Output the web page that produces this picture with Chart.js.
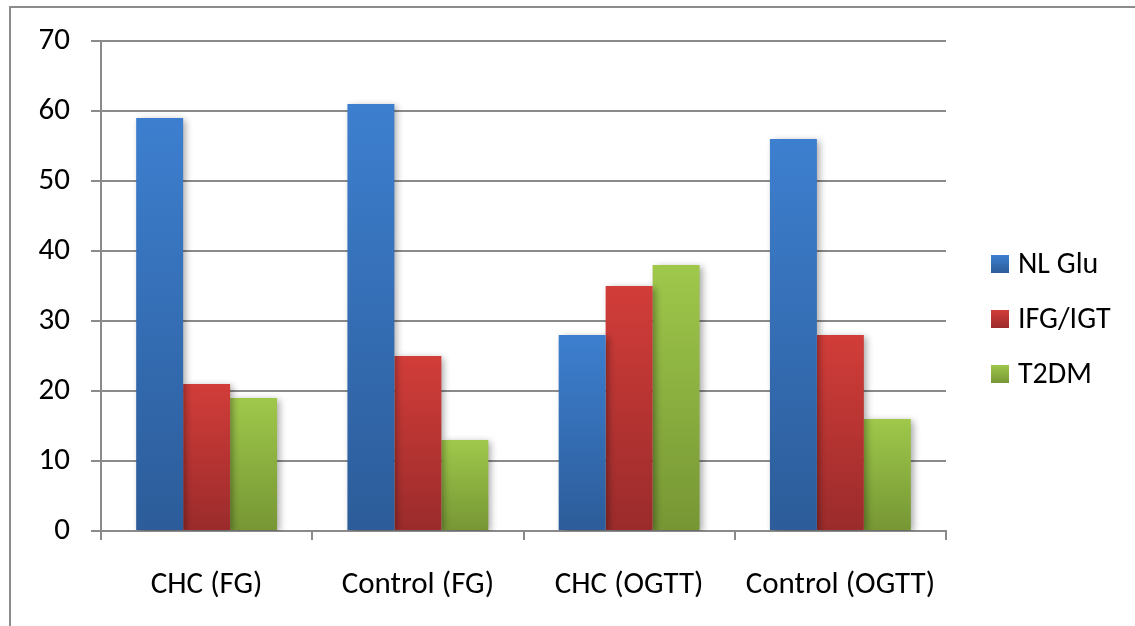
<!DOCTYPE html>
<html>
<head>
<meta charset="utf-8">
<script src="https://cdn.jsdelivr.net/npm/chart.js@4/dist/chart.umd.min.js"></script>
<style>
  html, body { margin: 0; padding: 0; background: #ffffff; }
  #wrap { width: 1135px; height: 626px; position: relative; }
</style>
</head>
<body>
<div id="wrap"><canvas id="c" width="1135" height="626"></canvas></div>
<script>
// Glucose status by group (%)
const categories = ['CHC (FG)', 'Control (FG)', 'CHC (OGTT)', 'Control (OGTT)'];
const nlGlu = [59, 61, 28, 56];
const ifgIgt = [21, 25, 35, 28];
const t2dm = [19, 13, 38, 16];
const seriesNames = ['NL Glu', 'IFG/IGT', 'T2DM'];
const yTicks = [0, 10, 20, 30, 40, 50, 60, 70];

// top / bottom colours of each series' vertical gradient
const shades = [
  ['#3d7fcf', '#2c5c99'],
  ['#d23d39', '#9a2b2b'],
  ['#9fc84b', '#769634']
];

const FONT = 'Carlito, Calibri, Lato, sans-serif';
const AXIS = '#8a8a8a';

function barFill(idx) {
  return function (ctx) {
    const chart = ctx.chart;
    const area = chart.chartArea;
    if (!area || ctx.type !== 'data') return shades[idx][0];
    const y = chart.scales.y;
    const top = y.getPixelForValue(ctx.raw);
    const bottom = y.getPixelForValue(0);
    const g = chart.ctx.createLinearGradient(0, top, 0, bottom);
    g.addColorStop(0, shades[idx][0]);
    g.addColorStop(1, shades[idx][1]);
    return g;
  };
}

// soft drop shadow behind the bars
const barShadow = {
  id: 'barShadow',
  beforeDatasetDraw(chart) {
    const c = chart.ctx;
    c.save();
    c.shadowColor = 'rgba(0,0,0,0.35)';
    c.shadowBlur = 7;
    c.shadowOffsetX = 3;
    c.shadowOffsetY = 2;
  },
  afterDatasetDraw(chart) {
    chart.ctx.restore();
  }
};

// outer frame around the whole chart
const frame = {
  id: 'frame',
  afterDraw(chart) {
    const c = chart.ctx;
    c.save();
    c.strokeStyle = '#8c8c8c';
    c.lineWidth = 2;
    c.beginPath();
    c.moveTo(10, 626);
    c.lineTo(10, 7);
    c.lineTo(1135, 7);
    c.stroke();
    c.restore();
  }
};

// legend on the right with gradient swatches
const sideLegend = {
  id: 'sideLegend',
  afterDraw(chart) {
    const c = chart.ctx;
    const ys = [264, 319, 374];
    c.save();
    c.font = '30px ' + FONT;
    c.textBaseline = 'middle';
    c.fillStyle = '#000000';
    seriesNames.forEach((name, i) => {
      const y = ys[i];
      const g = c.createLinearGradient(0, y - 9, 0, y + 9);
      g.addColorStop(0, shades[i][0]);
      g.addColorStop(1, shades[i][1]);
      c.fillStyle = g;
      c.fillRect(991, y - 9, 18, 18);
      c.fillStyle = '#000000';
      c.fillText(name, 1018, y + 1);
    });
    c.restore();
  }
};

const data = {
  labels: categories,
  datasets: [nlGlu, ifgIgt, t2dm].map((vals, i) => ({
    label: seriesNames[i],
    data: vals,
    backgroundColor: barFill(i),
    borderWidth: 0,
    categoryPercentage: 0.667,
    barPercentage: 1.0
  }))
};

new Chart(document.getElementById('c'), {
  type: 'bar',
  data: data,
  plugins: [barShadow, frame, sideLegend],
  options: {
    responsive: false,
    animation: false,
    layout: { padding: { left: 0, right: 189, top: 41, bottom: 0 } },
    plugins: {
      legend: { display: false },
      tooltip: { enabled: false }
    },
    scales: {
      x: {
        offset: true,
        afterFit(s) { s.height = 95; },
        grid: {
          offset: true,
          drawOnChartArea: false,
          drawTicks: true,
          tickLength: 9,
          color: AXIS,
          lineWidth: 2
        },
        border: { color: AXIS, width: 2 },
        ticks: {
          color: '#000000',
          padding: 27,
          font: { family: FONT, size: 31 }
        }
      },
      y: {
        min: 0,
        max: 70,
        afterFit(s) { s.width = 101; },
        afterBuildTicks(s) { s.ticks = yTicks.map(v => ({ value: v })); },
        grid: {
          color: AXIS,
          lineWidth: 2,
          tickLength: 10
        },
        border: { color: AXIS, width: 2 },
        ticks: {
          color: '#000000',
          padding: 21,
          font: { family: FONT, size: 31 }
        }
      }
    }
  }
});
</script>
</body>
</html>
